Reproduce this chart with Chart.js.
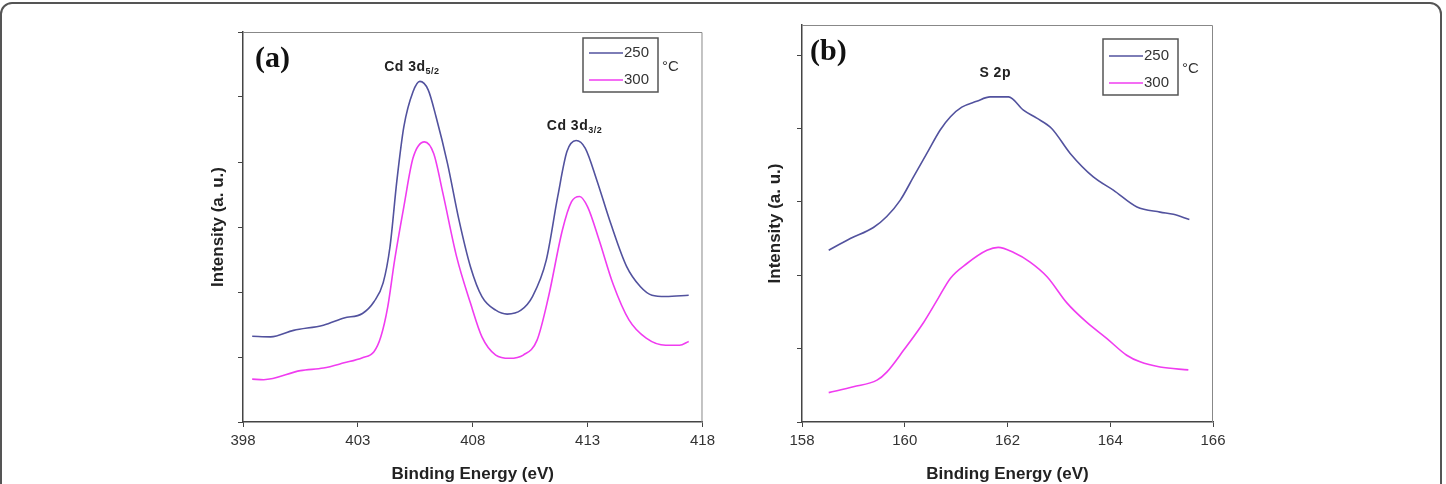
<!DOCTYPE html>
<html>
<head>
<meta charset="utf-8">
<script src="https://cdn.jsdelivr.net/npm/chart.js@4.4.0/dist/chart.umd.min.js"></script>
<style>
  html, body { margin: 0; padding: 0; background: #fff; overflow: hidden; }
  #page { position: relative; width: 1446px; height: 484px; overflow: hidden; }
  #frame { position: absolute; left: 0; top: 2px; width: 1442px; height: 540px; border: 2px solid #555; border-radius: 12px; box-sizing: border-box; }
  canvas { position: absolute; top: 0; }
</style>
</head>
<body>
<div id="page">
  <div id="frame"></div>
  <canvas id="chartA" width="540" height="500" style="left:180px"></canvas>
  <canvas id="chartB" width="500" height="500" style="left:740px"></canvas>
</div>
<script>
// series names (temperature, °C)
const seriesLabels = ['250', '300'];

// (a) Cd 3d region
const energyA250 = [398.4, 399.2, 400.2, 401.5, 402.4, 403.2, 403.7, 404.1, 404.4, 404.7, 405.0, 405.4, 405.7, 406.06, 406.4, 406.9, 407.4, 407.9, 408.4, 409.0, 409.5, 410.1, 410.6, 411.2, 411.7, 412.1, 412.5, 412.9, 413.4, 414.0, 414.7, 415.3, 415.8, 416.4, 417.4];
const intensityA250 = [1.32, 1.31, 1.41, 1.49, 1.60, 1.67, 1.85, 2.14, 2.70, 3.72, 4.54, 5.08, 5.24, 5.11, 4.70, 3.98, 3.11, 2.39, 1.93, 1.72, 1.66, 1.72, 1.93, 2.49, 3.47, 4.16, 4.33, 4.21, 3.72, 3.06, 2.39, 2.08, 1.95, 1.93, 1.95];
const energyA300 = [398.4, 398.9, 400.5, 401.5, 402.4, 403.2, 403.7, 404.0, 404.3, 404.6, 405.0, 405.4, 405.9, 406.3, 406.7, 407.3, 407.9, 408.4, 409.0, 409.6, 410.2, 410.8, 411.3, 411.9, 412.3, 412.65, 413.0, 413.5, 414.1, 414.8, 415.55, 416.4, 417.0, 417.4];
const intensityA300 = [0.66, 0.65, 0.79, 0.83, 0.91, 0.99, 1.08, 1.31, 1.77, 2.49, 3.31, 4.06, 4.31, 4.13, 3.52, 2.54, 1.83, 1.31, 1.03, 0.98, 1.03, 1.26, 1.93, 2.95, 3.39, 3.47, 3.31, 2.80, 2.13, 1.57, 1.29, 1.18, 1.18, 1.24];
const xTicksA = [398, 403, 408, 413, 418];
const yTicksA = [0, 1, 2, 3, 4, 5, 6];

// (b) S 2p region
const energyB250 = [158.52, 158.94, 159.39, 159.65, 159.91, 160.17, 160.43, 160.69, 160.89, 161.11, 161.40, 161.66, 162.02, 162.31, 162.57, 162.86, 163.22, 163.67, 164.06, 164.52, 164.97, 165.23, 165.54];
const intensityB250 = [2.34, 2.50, 2.65, 2.80, 3.02, 3.34, 3.66, 3.98, 4.16, 4.29, 4.37, 4.43, 4.43, 4.25, 4.14, 4.00, 3.66, 3.34, 3.16, 2.93, 2.86, 2.83, 2.76];
const energyB300 = [158.52, 159.0, 159.46, 159.65, 159.98, 160.37, 160.63, 160.89, 161.21, 161.60, 161.82, 162.12, 162.44, 162.77, 163.16, 163.54, 163.93, 164.32, 164.58, 164.97, 165.52];
const intensityB300 = [0.40, 0.48, 0.57, 0.68, 0.98, 1.36, 1.66, 1.96, 2.16, 2.34, 2.38, 2.31, 2.18, 1.98, 1.62, 1.36, 1.14, 0.91, 0.82, 0.75, 0.71];
const xTicksB = [158, 160, 162, 164, 166];
const yTicksB = [0, 1, 2, 3, 4, 5];

const colors = ['#52529e', '#f03cf0'];
const sans = '"Liberation Sans", Arial, sans-serif';

const toPoints = (xs, ys) => xs.map((x, i) => ({ x: x, y: ys[i] }));

// frame on top/right, panel letter, legend box and peak labels
const decor = {
  id: 'decor',
  afterDraw(chart, args, o) {
    const { ctx, chartArea: a, scales } = chart;
    ctx.save();
    ctx.strokeStyle = '#888';
    ctx.lineWidth = 1;
    ctx.beginPath();
    ctx.moveTo(a.left, a.top + 0.5);
    ctx.lineTo(a.right - 0.5, a.top + 0.5);
    ctx.lineTo(a.right - 0.5, a.bottom);
    ctx.stroke();

    ctx.fillStyle = '#111';
    ctx.textBaseline = 'middle';
    ctx.font = 'bold 30px "Liberation Serif", serif';
    ctx.fillText(o.letter, a.left + o.letterAt[0], a.top + o.letterAt[1]);

    // legend
    const lg = o.legend;
    const bx = a.left + lg.x, by = a.top + lg.y;
    ctx.strokeStyle = '#555';
    ctx.lineWidth = 1.5;
    ctx.strokeRect(bx, by, lg.w, lg.h);
    ctx.font = '15px ' + sans;
    seriesLabels.forEach((s, i) => {
      const ly = by + lg.rows[i];
      ctx.strokeStyle = colors[i];
      ctx.lineWidth = 1.5;
      ctx.beginPath();
      ctx.moveTo(bx + 6, ly);
      ctx.lineTo(bx + 40, ly);
      ctx.stroke();
      ctx.fillStyle = '#333';
      ctx.fillText(s, bx + 41, ly);
    });
    ctx.fillText('°C', bx + lg.w + 4, by + lg.h / 2 + 2);

    // peak labels with subscripts
    o.peaks.forEach(p => {
      const px = scales.x.getPixelForValue(p.at[0]);
      const py = scales.y.getPixelForValue(p.at[1]);
      ctx.letterSpacing = '0.5px';
      ctx.font = 'bold 14px ' + sans;
      const w1 = ctx.measureText(p.text).width;
      ctx.font = 'bold 9px ' + sans;
      const w2 = p.sub ? ctx.measureText(p.sub).width : 0;
      const x0 = px - (w1 + w2) / 2;
      ctx.fillStyle = '#222';
      ctx.font = 'bold 14px ' + sans;
      ctx.fillText(p.text, x0, py);
      if (p.sub) {
        ctx.font = 'bold 9px ' + sans;
        ctx.fillText(p.sub, x0 + w1, py + 4);
      }
      ctx.letterSpacing = '0px';
    });
    ctx.restore();
  }
};

function makePanel(id, d) {
  return new Chart(document.getElementById(id), {
    type: 'line',
    data: {
      datasets: [
        { label: seriesLabels[0], data: toPoints(d.e250, d.i250), borderColor: colors[0] },
        { label: seriesLabels[1], data: toPoints(d.e300, d.i300), borderColor: colors[1] }
      ]
    },
    options: {
      responsive: false,
      animation: false,
      layout: { padding: { left: 0, right: d.padRight, top: d.padTop, bottom: 0 } },
      elements: {
        line: { borderWidth: 1.6, cubicInterpolationMode: 'monotone', fill: false },
        point: { radius: 0 }
      },
      plugins: {
        legend: { display: false },
        tooltip: { enabled: false },
        decor: d.decor
      },
      scales: {
        x: {
          type: 'linear',
          min: d.xTicks[0],
          max: d.xTicks[d.xTicks.length - 1],
          afterBuildTicks: s => { s.ticks = d.xTicks.map(v => ({ value: v })); },
          afterFit: s => { s.height = 78; },
          grid: { drawOnChartArea: false, drawTicks: true, tickLength: 5, color: '#444' },
          border: { color: '#444', width: 1.5 },
          ticks: { color: '#333', padding: 5, maxRotation: 0, font: { size: 15, family: sans } },
          title: {
            display: true, text: 'Binding Energy (eV)', color: '#222',
            padding: { top: 0, bottom: 15 },
            font: { size: 17, weight: 'bold', family: sans }
          }
        },
        y: {
          type: 'linear',
          min: d.yTicks[0],
          max: d.yMax,
          afterBuildTicks: s => { s.ticks = d.yTicks.map(v => ({ value: v })); },
          afterFit: s => { s.width = d.yWidth; },
          grid: { drawOnChartArea: false, drawTicks: true, tickLength: 5, color: '#444' },
          border: { color: '#444', width: 1.5 },
          ticks: { display: false },
          title: {
            display: true, text: 'Intensity (a. u.)', color: '#222',
            padding: { top: d.yTitlePad, bottom: 0 },
            font: { size: 17, weight: 'bold', family: sans }
          }
        }
      }
    },
    plugins: [decor]
  });
}

makePanel('chartA', {
  e250: energyA250, i250: intensityA250, e300: energyA300, i300: intensityA300,
  xTicks: xTicksA, yTicks: yTicksA, yMax: 6,
  padRight: 17, padTop: 32, yWidth: 63, yTitlePad: 28,
  decor: {
    letter: '(a)', letterAt: [12, 27],
    legend: { x: 340, y: 6, w: 75, h: 54, rows: [15, 42] },
    peaks: [
      { text: 'Cd 3d', sub: '5/2', at: [405.35, 5.46] },
      { text: 'Cd 3d', sub: '3/2', at: [412.43, 4.55] }
    ]
  }
});

makePanel('chartB', {
  e250: energyB250, i250: intensityB250, e300: energyB300, i300: intensityB300,
  xTicks: xTicksB, yTicks: yTicksB, yMax: 5.41,
  padRight: 27, padTop: 25, yWidth: 62, yTitlePad: 25,
  decor: {
    letter: '(b)', letterAt: [8, 27],
    legend: { x: 301, y: 14, w: 75, h: 56, rows: [17, 44] },
    peaks: [
      { text: 'S 2p', sub: '', at: [161.76, 4.76] }
    ]
  }
});
</script>
</body>
</html>
